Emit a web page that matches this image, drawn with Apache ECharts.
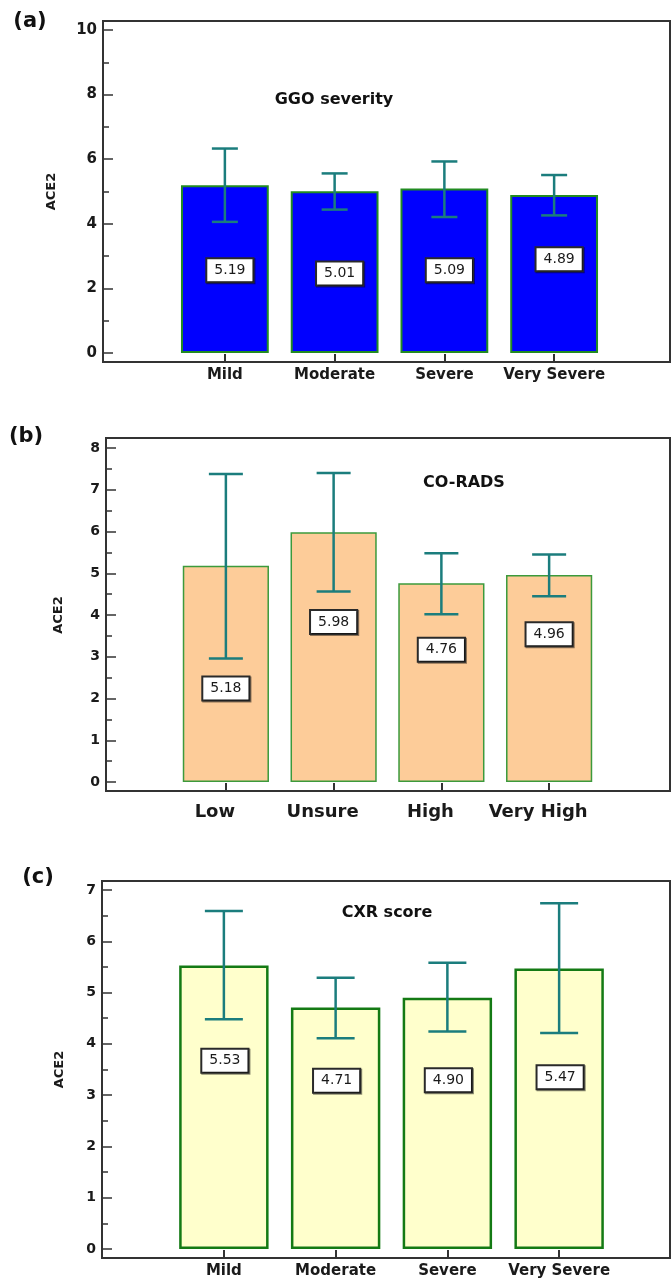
<!DOCTYPE html>
<html>
<head>
<meta charset="utf-8">
<script src="https://cdn.jsdelivr.net/npm/echarts@6/dist/echarts.min.js"></script>
<style>
  html, body { margin: 0; padding: 0; background: #fff; }
  #main { width: 671px; height: 1280px; }
</style>
</head>
<body>
<div id="main"></div>
<script>
// (a) GGO severity
var ggoCats = ['Mild', 'Moderate', 'Severe', 'Very Severe'];
var ggoMean = [5.19, 5.01, 5.09, 4.89];
var ggoLow = [4.06, 4.44, 4.21, 4.26];
var ggoHigh = [6.33, 5.56, 5.93, 5.51];
var ggoTicks = [0, 2, 4, 6, 8, 10];

// (b) CO-RADS
var radsCats = ['Low', 'Unsure', 'High', 'Very High'];
var radsMean = [5.18, 5.98, 4.76, 4.96];
var radsLow = [2.96, 4.56, 4.02, 4.45];
var radsHigh = [7.38, 7.40, 5.48, 5.45];
var radsTicks = [0, 1, 2, 3, 4, 5, 6, 7, 8];

// (c) CXR score
var cxrCats = ['Mild', 'Moderate', 'Severe', 'Very Severe'];
var cxrMean = [5.53, 4.71, 4.90, 5.47];
var cxrLow = [4.48, 4.11, 4.24, 4.21];
var cxrHigh = [6.59, 5.29, 5.58, 6.74];
var cxrTicks = [0, 1, 2, 3, 4, 5, 6, 7];

var FONT = '"DejaVu Sans", Verdana, sans-serif';
var INK = '#1a1a1a';
var ERR = '#1b7d7d';

// layout of each panel (pixels), value box anchors in axis units
var panels = [
  {
    tag: '(a)', tagX: 30, tagY: 22, title: 'GGO severity', titleX: 334, titleY: 100,
    cats: ggoCats, mean: ggoMean, low: ggoLow, high: ggoHigh, ticks: ggoTicks,
    boxAt: [2.56, 2.46, 2.56, 2.90], boxDx: 5,
    frame: [103, 21, 670, 362], grid: { left: 170, top: 30, width: 439, height: 323 },
    fill: '#0000ff', edge: '#228b22', edgeW: 2, cap: 13,
    tickFont: 15, catFont: 15, catMargin: 6, catShift: 0, nameGap: 45
  },
  {
    tag: '(b)', tagX: 26, tagY: 437, title: 'CO-RADS', titleX: 464, titleY: 483,
    cats: radsCats, mean: radsMean, low: radsLow, high: radsHigh, ticks: radsTicks,
    boxAt: [2.24, 3.83, 3.17, 3.54], boxDx: 0,
    frame: [106, 438, 670, 791], grid: { left: 172, top: 448, width: 431, height: 334 },
    fill: '#fdcc99', edge: '#3c9a3c', edgeW: 1.5, cap: 17,
    tickFont: 14, catFont: 18, catMargin: 12, catShift: 22, nameGap: 41
  },
  {
    tag: '(c)', tagX: 38, tagY: 878, title: 'CXR score', titleX: 387, titleY: 913,
    cats: cxrCats, mean: cxrMean, low: cxrLow, high: cxrHigh, ticks: cxrTicks,
    boxAt: [3.67, 3.28, 3.29, 3.35], boxDx: 1,
    frame: [102, 881, 670, 1258], grid: { left: 168, top: 890, width: 447, height: 359 },
    fill: '#ffffcc', edge: '#147a14', edgeW: 2.5, cap: 19,
    tickFont: 14, catFont: 15, catMargin: 6, catShift: 0, nameGap: 36
  }
];

function errorBars(cap) {
  return function (params, api) {
    var x = api.value(0);
    var lo = api.coord([x, api.value(1)]);
    var hi = api.coord([x, api.value(2)]);
    var style = { stroke: ERR, lineWidth: 2.5 };
    return {
      type: 'group',
      children: [
        { type: 'line', shape: { x1: hi[0], y1: hi[1], x2: lo[0], y2: lo[1] }, style: style },
        { type: 'line', shape: { x1: hi[0] - cap, y1: hi[1], x2: hi[0] + cap, y2: hi[1] }, style: style },
        { type: 'line', shape: { x1: lo[0] - cap, y1: lo[1], x2: lo[0] + cap, y2: lo[1] }, style: style }
      ]
    };
  };
}

var grids = [], xAxes = [], yAxes = [], series = [], graphics = [];

panels.forEach(function (p, i) {
  var g = p.grid;
  var t = p.ticks;
  var drop = p.frame[3] - (g.top + g.height);
  grids.push({ left: g.left, top: g.top, width: g.width, height: g.height });

  xAxes.push({
    gridIndex: i,
    type: 'category',
    data: p.cats,
    offset: drop,
    axisLine: { show: true, onZero: false, lineStyle: { color: '#333', width: 2 } },
    axisTick: { show: true, inside: true, alignWithLabel: true, interval: 0, length: drop - 1,
      lineStyle: { color: '#333', width: 2 } },
    axisLabel: { interval: 0, margin: p.catMargin, fontFamily: FONT, fontWeight: 'bold',
      fontSize: p.catFont, color: INK, padding: [0, p.catShift, 0, 0] }
  });

  yAxes.push({
    gridIndex: i,
    type: 'value',
    min: t[0],
    max: t[t.length - 1],
    interval: t[1] - t[0],
    offset: g.left - p.frame[0],
    name: 'ACE2',
    nameLocation: 'middle',
    nameRotate: 90,
    nameGap: p.nameGap,
    nameTextStyle: { fontFamily: FONT, fontWeight: 'bold', fontSize: 13, color: INK },
    axisLine: { show: true, lineStyle: { color: '#333', width: 2 } },
    axisTick: { show: true, inside: true, length: 10, lineStyle: { color: '#333', width: 1.5 } },
    minorTick: { show: true, splitNumber: 2, length: 6, lineStyle: { color: '#333', width: 1.5 } },
    splitLine: { show: false },
    minorSplitLine: { show: false },
    axisLabel: { margin: 6, fontFamily: FONT, fontWeight: 'bold', fontSize: p.tickFont, color: INK }
  });

  series.push({
    type: 'bar',
    xAxisIndex: i,
    yAxisIndex: i,
    data: p.mean,
    barWidth: '80%',
    itemStyle: { color: p.fill, borderColor: p.edge, borderWidth: p.edgeW },
    z: 2
  });

  series.push({
    type: 'custom',
    xAxisIndex: i,
    yAxisIndex: i,
    data: p.cats.map(function (c, k) { return [k, p.low[k], p.high[k]]; }),
    encode: { x: 0, y: [1, 2] },
    renderItem: errorBars(p.cap),
    z: 5,
    silent: true
  });

  series.push({
    type: 'scatter',
    xAxisIndex: i,
    yAxisIndex: i,
    data: p.cats.map(function (c, k) { return [k, p.boxAt[k]]; }),
    symbolSize: 1,
    itemStyle: { color: 'rgba(0,0,0,0)', opacity: 1 },
    silent: true,
    z: 6,
    label: {
      show: true,
      position: 'inside',
      offset: [p.boxDx, 0],
      formatter: function (params) { return p.mean[params.dataIndex].toFixed(2); },
      fontFamily: FONT,
      fontSize: 14,
      color: '#1a1a1a',
      opacity: 1,
      backgroundColor: '#ffffff',
      borderColor: '#2a2a2a',
      borderWidth: 2,
      padding: [3, 7, 3, 7],
      lineHeight: 16,
      shadowColor: 'rgba(0,0,0,0.45)',
      shadowOffsetX: 1,
      shadowOffsetY: 1
    }
  });

  graphics.push({
    type: 'rect',
    shape: { x: p.frame[0], y: p.frame[1], width: p.frame[2] - p.frame[0], height: p.frame[3] - p.frame[1] },
    style: { fill: 'none', stroke: '#333', lineWidth: 2 },
    z: 10
  });
  graphics.push({
    type: 'text', x: p.tagX, y: p.tagY,
    style: { text: p.tag, font: 'bold 21px ' + FONT, fill: '#111', align: 'center', verticalAlign: 'middle' }
  });
  graphics.push({
    type: 'text', x: p.titleX, y: p.titleY,
    style: { text: p.title, font: 'bold 16px ' + FONT, fill: '#111', align: 'center', verticalAlign: 'middle' }
  });
});

var chart = echarts.init(document.getElementById('main'));
chart.setOption({
  animation: false,
  backgroundColor: '#fff',
  grid: grids,
  xAxis: xAxes,
  yAxis: yAxes,
  series: series,
  graphic: graphics
});
window.addEventListener('resize', function () { chart.resize(); });
</script>
</body>
</html>
